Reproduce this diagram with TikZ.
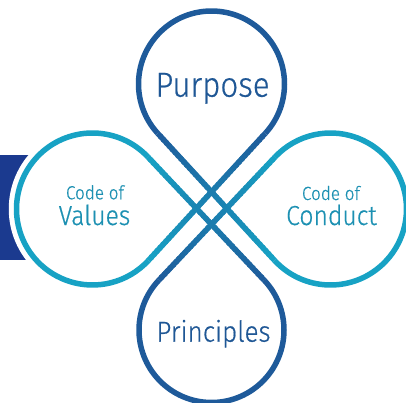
\documentclass[tikz,border=0pt]{standalone}
\usepackage{fontspec}
\setmainfont{Fira Sans Light}[FakeStretch=0.9,FakeBold=0.6]
\usetikzlibrary{calc}
\definecolor{dkb}{HTML}{1E5A9A}
\definecolor{tlc}{HTML}{17A2C4}
\definecolor{dkt}{HTML}{1F5795}
\definecolor{tlt}{HTML}{1C90B2}
\definecolor{rectc}{HTML}{1B3A8F}
\begin{document}
\begin{tikzpicture}[x=1pt,y=1pt,yscale=-1,
  ring/.style={line width=5.5pt},
  lbl/.style={anchor=base, inner sep=0pt}]
\useasboundingbox (0,0) rectangle (406,403);
% centres
\coordinate (T) at (211.5,84);
\coordinate (B) at (211.5,330);
\coordinate (L) at (92.5,209);
\coordinate (R) at (330.5,209);
% tangent points
\coordinate (PT)  at ($(T)+(137.41:73)$);
\coordinate (PT2) at ($(T)+(42.59:73)$);
\coordinate (PR)  at ($(R)+(137.41:76)$);
\coordinate (PR2) at ($(R)+(-136.66:76)$);
\coordinate (PB)  at ($(B)+(-136.66:72.5)$);
\coordinate (PB2) at ($(B)+(-43.34:72.5)$);
\coordinate (PL)  at ($(L)+(-43.34:76)$);
\coordinate (PL2) at ($(L)+(42.59:76)$);
% side bar
\fill[rectc] (0,155) rectangle (32,260);
\fill[white] (L) circle (83.75);
% loops
\draw[ring,dkb] (PT2) arc[start angle=42.59, end angle=-222.59, radius=73];
\draw[ring,tlc] (PR) arc[start angle=137.41, end angle=-136.66, radius=76];
\draw[ring,dkb] (PB) arc[start angle=223.34, end angle=-43.34, radius=72.5];
\draw[ring,tlc] (PL) arc[start angle=-43.34, end angle=-317.41, radius=76];
% gradient connectors (dark end / teal end)
\foreach \a/\b in {PT/PR, PB/PR2, PB2/PL, PT2/PL2}{
  \foreach \i in {0,...,39}{
    \pgfmathsetmacro\s{max(0,\i/40-0.006)}
    \pgfmathsetmacro\e{min(1,(\i+1)/40+0.006)}
    \pgfmathtruncatemacro\p{100-(\i+0.5)*2.5}
    \draw[ring, dkb!\p!tlc] ($(\a)!\s!(\b)$) -- ($(\a)!\e!(\b)$);
  }
}
% labels
\node[lbl, font=\fontsize{34.8}{36}\selectfont, text=dkt] (purpose) at (212.5,96.7) {Purpose};
\node[lbl, font=\fontsize{29}{30}\selectfont, text=dkt] (principles) at (213.5,341.7) {Principles};
\node[lbl, font=\fontsize{19}{20}\selectfont, text=tlt] (codeL) at (95,199.3) {Code of};
\node[lbl, font=\fontsize{27.5}{28}\selectfont, text=tlt] (values) at (94.5,225) {Values};
\node[lbl, font=\fontsize{19}{20}\selectfont, text=tlt] (codeR) at (331,200) {Code of};
\node[lbl, font=\fontsize{27.5}{28}\selectfont, text=tlt] (conduct) at (331.5,225) {Conduct};
\end{tikzpicture}
\end{document}
